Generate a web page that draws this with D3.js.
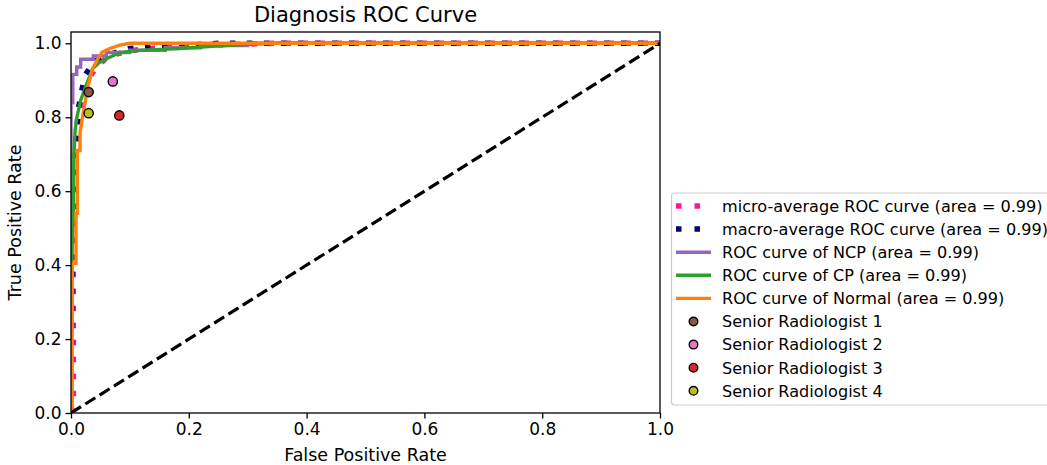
<!DOCTYPE html>
<html>
<head>
<meta charset="utf-8">
<script src="https://cdn.jsdelivr.net/npm/d3@7"></script>
<style>
  html, body { margin: 0; padding: 0; background: #fff; }
  svg { display: block; font-family: "DejaVu Sans", sans-serif; }
</style>
</head>
<body>
<svg id="chart" width="1047" height="465"></svg>
<script>
// ---------------- data ----------------
const title = "Diagnosis ROC Curve";
const xLabel = "False Positive Rate";
const yLabel = "True Positive Rate";
const xTicks = [0.0, 0.2, 0.4, 0.6, 0.8, 1.0];
const yTicks = [0.0, 0.2, 0.4, 0.6, 0.8, 1.0];

const fprMicro = [0, 0.004, 0.004, 0.006, 0.009, 0.013, 0.02, 0.028, 0.036, 0.046, 0.06, 0.08, 0.1, 0.15, 0.2, 0.27, 0.35, 1];
const tprMicro = [0, 0.02, 0.45, 0.6, 0.72, 0.8, 0.855, 0.895, 0.919, 0.94, 0.96, 0.972, 0.98, 0.988, 0.993, 0.997, 1, 1];

const fprMacro = [0, 0.002, 0.005, 0.01, 0.013, 0.018, 0.024, 0.035, 0.044, 0.06, 0.08, 0.1, 0.15, 0.2, 0.25, 1];
const tprMacro = [0, 0.5, 0.65, 0.77, 0.827, 0.87, 0.914, 0.94, 0.954, 0.966, 0.977, 0.986, 0.99, 0.995, 1, 1];

const fprNCP = [0, 0, 0.003, 0.003, 0.0097, 0.0097, 0.0165, 0.0165, 0.038, 0.038, 0.06, 0.06, 0.1, 0.1, 0.16, 0.16, 0.22, 0.22, 0.3, 0.3, 1];
const tprNCP = [0, 0.84, 0.84, 0.916, 0.916, 0.936, 0.936, 0.957, 0.957, 0.966, 0.966, 0.975, 0.975, 0.981, 0.981, 0.988, 0.988, 0.994, 0.994, 1, 1];

const fprCP = [0, 0.002, 0.004, 0.005, 0.007, 0.01, 0.0165, 0.022, 0.029, 0.037, 0.047, 0.061, 0.075, 0.088, 0.117, 0.185, 0.24, 0.3, 0.35, 1];
const tprCP = [0, 0.45, 0.55, 0.7, 0.765, 0.8, 0.846, 0.87, 0.9, 0.932, 0.947, 0.959, 0.969, 0.976, 0.981, 0.986, 0.992, 0.997, 1, 1];

const fprNormal = [0.002, 0.002, 0.0085, 0.0085, 0.0107, 0.0107, 0.0153, 0.0153, 0.02, 0.029, 0.037, 0.046, 0.053, 0.066, 0.083, 0.1, 1];
const tprNormal = [0, 0.405, 0.405, 0.54, 0.54, 0.71, 0.71, 0.757, 0.805, 0.886, 0.932, 0.959, 0.976, 0.986, 0.995, 1.0, 1.0];

const curveNames = ["micro-average ROC curve (area = 0.99)", "macro-average ROC curve (area = 0.99)",
  "ROC curve of NCP (area = 0.99)", "ROC curve of CP (area = 0.99)", "ROC curve of Normal (area = 0.99)"];

const readerNames = ["Senior Radiologist 1", "Senior Radiologist 2", "Senior Radiologist 3", "Senior Radiologist 4"];
const readerFPR = [0.03, 0.071, 0.082, 0.03];
const readerTPR = [0.868, 0.897, 0.805, 0.811];

// ---------------- styles ----------------
const curveStyles = [
  { color: "#ff1493", width: 5.5, dash: "5.5,11.5" },
  { color: "#000080", width: 5.5, dash: "5.5,11.5" },
  { color: "#9467bd", width: 3.4, dash: null },
  { color: "#2ca02c", width: 3.4, dash: null },
  { color: "#ff7f0e", width: 3.4, dash: null }
];
const readerColors = ["#8c564b", "#e377c2", "#d62728", "#bcbd22"];

const curves = [
  [fprMicro, tprMicro], [fprMacro, tprMacro], [fprNCP, tprNCP], [fprCP, tprCP], [fprNormal, tprNormal]
];

// ---------------- layout ----------------
const svg = d3.select("#chart");
const L = 71, R = 660, T = 32, B = 413;
const x = d3.scaleLinear().domain([0, 1]).range([L, R]);
const y = d3.scaleLinear().domain([0, 1]).range([B, 43.3]);

svg.append("defs").append("clipPath").attr("id", "plotclip")
  .append("rect").attr("x", L).attr("y", T).attr("width", R - L).attr("height", B - T);

const plot = svg.append("g").attr("clip-path", "url(#plotclip)");

const line = d3.line().x(d => x(d[0])).y(d => y(d[1]));

curves.forEach((c, i) => {
  const pts = c[0].map((v, k) => [v, c[1][k]]);
  const s = curveStyles[i];
  plot.append("path")
    .attr("d", line(pts))
    .attr("fill", "none")
    .attr("stroke", s.color)
    .attr("stroke-width", s.width)
    .attr("stroke-dasharray", s.dash)
    .attr("stroke-linejoin", "miter")
    .attr("stroke-linecap", "butt");
});

// diagonal
plot.append("path")
  .attr("d", line([[0, 0], [1, 1]]))
  .attr("fill", "none").attr("stroke", "#000").attr("stroke-width", 3.2)
  .attr("stroke-dasharray", "11.8,5.1");

// reader points
readerFPR.forEach((fx, i) => {
  svg.append("circle")
    .attr("cx", x(fx)).attr("cy", y(readerTPR[i])).attr("r", 4.6)
    .attr("fill", readerColors[i]).attr("stroke", "#000").attr("stroke-width", 1.4);
});

// axes
const xAxis = d3.axisBottom(x).tickValues(xTicks).tickFormat(d3.format(".1f")).tickSize(5.5).tickPadding(4);
const yAxis = d3.axisLeft(y).tickValues(yTicks).tickFormat(d3.format(".1f")).tickSize(5.5).tickPadding(4);

const gx = svg.append("g").attr("transform", `translate(0,${B})`).call(xAxis);
const gy = svg.append("g").attr("transform", `translate(${L},0)`).call(yAxis);
[gx, gy].forEach(g => {
  g.select(".domain").remove();
  g.selectAll(".tick line").attr("stroke", "#000").attr("stroke-width", 1.3);
  g.selectAll(".tick text").attr("font-size", 17).attr("fill", "#000")
    .attr("font-family", "DejaVu Sans");
});

// frame
svg.append("rect").attr("x", L).attr("y", T).attr("width", R - L).attr("height", B - T)
  .attr("fill", "none").attr("stroke", "#000").attr("stroke-width", 1.3);

// title and labels
svg.append("text").attr("x", (L + R) / 2).attr("y", 22).attr("text-anchor", "middle")
  .attr("font-size", 21).text(title);
svg.append("text").attr("x", (L + R) / 2).attr("y", 461).attr("text-anchor", "middle")
  .attr("font-size", 17.5).text(xLabel);
svg.append("text").attr("transform", `translate(21,${(T + B) / 2}) rotate(-90)`)
  .attr("text-anchor", "middle").attr("font-size", 17.5).text(yLabel);

// legend
const lg = svg.append("g");
lg.append("rect").attr("x", 671.5).attr("y", 193).attr("width", 390).attr("height", 212)
  .attr("rx", 3).attr("fill", "#fff").attr("fill-opacity", 0.8)
  .attr("stroke", "#cccccc").attr("stroke-width", 1.2);
const row0 = 206, rowH = 23.1;
curveNames.forEach((name, i) => {
  const s = curveStyles[i];
  const cy = row0 + i * rowH;
  lg.append("line").attr("x1", 676).attr("x2", 711).attr("y1", cy).attr("y2", cy)
    .attr("stroke", s.color).attr("stroke-width", s.width)
    .attr("stroke-dasharray", s.dash ? "5.5,13" : null);
  lg.append("text").attr("x", 722).attr("y", cy + 5.8).attr("font-size", 16.1).text(name);
});
readerNames.forEach((name, i) => {
  const cy = row0 + (i + 5) * rowH;
  lg.append("circle").attr("cx", 693.5).attr("cy", cy).attr("r", 4.3)
    .attr("fill", readerColors[i]).attr("stroke", "#000").attr("stroke-width", 1.4);
  lg.append("text").attr("x", 722).attr("y", cy + 5.8).attr("font-size", 16.1).text(name);
});
</script>
</body>
</html>
